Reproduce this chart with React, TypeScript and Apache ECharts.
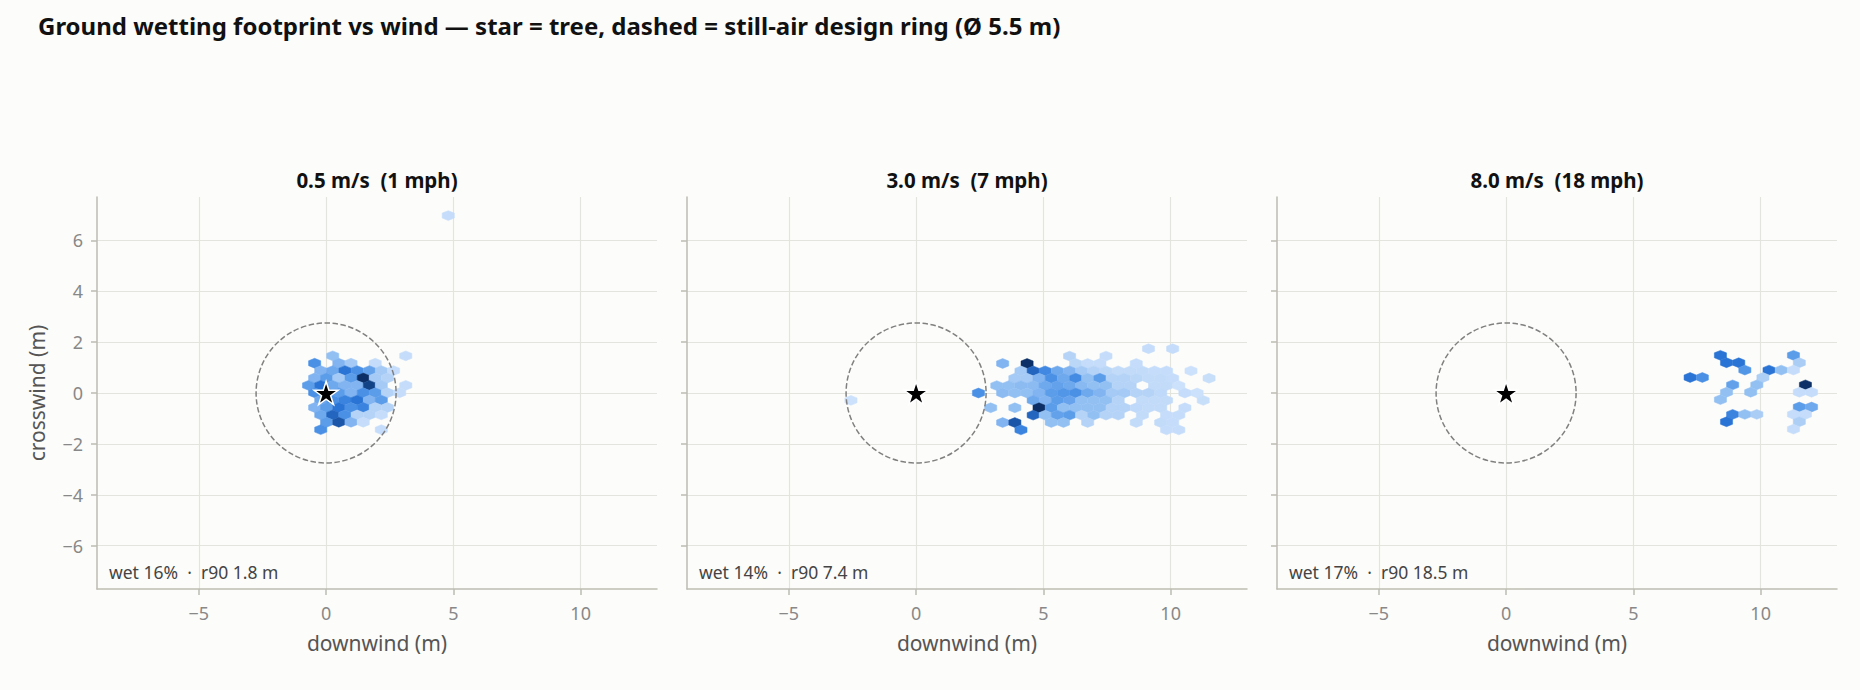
import React, { useEffect, useRef } from 'react';
import * as echarts from 'echarts';

const TITLE = 'Ground wetting footprint vs wind — star = tree, dashed = still-air design ring (Ø 5.5 m)';
const WIND_MS = [0.5, 3.0, 8.0];
const WIND_MPH = [1, 7, 18];
const WET_PCT = [16, 14, 17];
const R90_M = [1.8, 7.4, 18.5];
const X_TICKS = [-5, 0, 5, 10];
const Y_TICKS = [-6, -4, -2, 0, 2, 4, 6];
const X_RANGE = [-9, 13];
const Y_RANGE = [-7.7, 7.7];
const TREE = [[0, 0]];
const RING_DIAMETER_M = 5.5;

// hexbin cells: [downwind m, crosswind m, wetting intensity level 0..7]
const HEX_CALM = [
  [0.26, 1.46, 2], [3.13, 1.46, 0.5],
  [-0.45, 1.17, 4], [0.50, 1.17, 2.5], [0.98, 1.17, 1.5], [1.93, 1.17, 0.5],
  [-0.21, 0.88, 2.5], [0.26, 0.88, 3], [0.74, 0.88, 5], [1.22, 0.88, 4], [1.70, 0.88, 3.3], [2.17, 0.88, 1.5], [2.65, 0.88, 0.5],
  [-0.45, 0.59, 2.5], [0.02, 0.59, 3.5], [0.50, 0.59, 1.5], [0.98, 0.59, 3.5], [1.46, 0.59, 7], [1.93, 0.59, 1.5], [2.41, 0.59, 1],
  [-0.69, 0.30, 3.5], [-0.21, 0.30, 5], [0.26, 0.30, 3], [0.74, 0.30, 2.5], [1.22, 0.30, 2.5], [1.70, 0.30, 6.5], [2.17, 0.30, 1.5], [3.13, 0.30, 0.5],
  [-0.45, 0.01, 4], [0.02, 0.01, 4], [0.50, 0.01, 3.5], [0.98, 0.01, 2.5], [1.46, 0.01, 4], [1.93, 0.01, 3.5], [2.41, 0.01, 1], [2.89, 0.01, 0.5],
  [-0.21, -0.28, 3], [0.26, -0.28, 4], [0.74, -0.28, 4.5], [1.22, -0.28, 5], [1.70, -0.28, 2.5], [2.17, -0.28, 3.5],
  [-0.45, -0.57, 2.5], [0.02, -0.57, 3.5], [0.50, -0.57, 5], [0.98, -0.57, 4], [1.46, -0.57, 4.5], [1.93, -0.57, 1], [2.41, -0.57, 1],
  [-0.21, -0.86, 3], [0.26, -0.86, 5.5], [0.74, -0.86, 4], [1.22, -0.86, 1], [1.70, -0.86, 1], [2.17, -0.86, 0.5],
  [0.02, -1.15, 3.5], [0.50, -1.15, 6], [0.98, -1.15, 2.5], [1.46, -1.15, 0.5],
  [-0.21, -1.44, 4], [2.17, -1.44, 0.5],
  [4.80, 6.97, 0.5],
];

const HEX_MODERATE = [
  [9.13, 1.74, 0.5], [10.08, 1.74, 0.5],
  [6.03, 1.45, 1], [7.46, 1.45, 0.5],
  [3.40, 1.16, 2.5], [4.36, 1.16, 7], [6.27, 1.16, 0.8], [6.74, 1.16, 0.5], [7.22, 1.16, 0.5], [8.65, 1.16, 0.5],
  [4.12, 0.87, 1.5], [4.60, 0.87, 5.5], [5.07, 0.87, 4.3], [5.55, 0.87, 3], [6.03, 0.87, 2.5], [6.50, 0.87, 1.5], [6.98, 0.87, 1], [7.46, 0.87, 0.8], [7.94, 0.87, 0.6], [8.41, 0.87, 0.6], [8.89, 0.87, 0.6], [9.37, 0.87, 0.5], [9.84, 0.87, 0.5], [10.80, 0.87, 0.3],
  [3.88, 0.58, 1.5], [4.36, 0.58, 1.5], [4.83, 0.58, 2.5], [5.31, 0.58, 4], [5.79, 0.58, 3], [6.27, 0.58, 4.2], [6.74, 0.58, 2], [7.22, 0.58, 3.5], [7.70, 0.58, 1], [8.17, 0.58, 1], [8.65, 0.58, 0.8], [9.13, 0.58, 0.6], [9.61, 0.58, 0.6], [10.08, 0.58, 0.5], [11.51, 0.58, 0.4],
  [3.17, 0.29, 2], [3.64, 0.29, 2], [4.12, 0.29, 2.2], [4.60, 0.29, 2.2], [5.07, 0.29, 3], [5.55, 0.29, 3.3], [6.03, 0.29, 3], [6.50, 0.29, 2.3], [6.98, 0.29, 2], [7.46, 0.29, 2], [7.94, 0.29, 1], [8.41, 0.29, 1], [9.37, 0.29, 0.6], [9.84, 0.29, 0.6], [10.32, 0.29, 0.3],
  [2.45, 0, 4], [3.40, 0, 2.2], [3.88, 0, 2], [4.36, 0, 2], [4.83, 0, 2.5], [5.31, 0, 3.5], [5.79, 0, 3.8], [6.27, 0, 4], [6.74, 0, 3], [7.22, 0, 2.5], [7.70, 0, 1.5], [8.17, 0, 1.5], [8.65, 0, 1], [9.13, 0, 1], [9.61, 0, 0.7], [10.56, 0, 0.5], [11.04, 0, 0.3],
  [-2.56, -0.29, 0.3], [4.60, -0.29, 3], [5.07, -0.29, 2.5], [5.55, -0.29, 3.5], [6.03, -0.29, 3.2], [6.50, -0.29, 2], [6.98, -0.29, 2], [7.46, -0.29, 2], [7.94, -0.29, 1], [8.89, -0.29, 0.6], [9.37, -0.29, 0.6], [9.84, -0.29, 0.6], [11.28, -0.29, 0.4],
  [2.93, -0.58, 2], [3.88, -0.58, 2], [4.83, -0.58, 7], [5.31, -0.58, 3.5], [5.79, -0.58, 2], [6.27, -0.58, 2], [6.74, -0.58, 2], [7.22, -0.58, 2], [7.70, -0.58, 1], [8.17, -0.58, 1], [8.65, -0.58, 0.7], [9.13, -0.58, 0.6], [9.61, -0.58, 0.6], [10.56, -0.58, 0.5],
  [4.60, -0.87, 5.5], [5.07, -0.87, 2], [5.55, -0.87, 3.3], [6.03, -0.87, 3.5], [6.50, -0.87, 1], [6.98, -0.87, 2], [7.46, -0.87, 1], [7.94, -0.87, 1], [8.89, -0.87, 0.6], [9.84, -0.87, 0.5], [10.32, -0.87, 0.5],
  [3.40, -1.16, 2.5], [3.88, -1.16, 6], [5.31, -1.16, 2], [5.79, -1.16, 2], [6.74, -1.16, 1], [8.65, -1.16, 0.6], [9.61, -1.16, 0.6], [10.08, -1.16, 0.5],
  [4.12, -1.45, 4.5], [9.84, -1.45, 0.5], [10.32, -1.45, 0.5],
];

const HEX_STRONG = [
  [8.42, 1.48, 5], [11.29, 1.48, 3.5],
  [8.66, 1.19, 5], [9.14, 1.19, 5], [11.52, 1.19, 1.3],
  [9.38, 0.90, 3.8], [10.33, 0.90, 5], [10.81, 0.90, 2], [11.29, 0.90, 0.5],
  [7.23, 0.61, 5], [7.71, 0.61, 4], [10.09, 0.61, 1.2],
  [8.90, 0.32, 3.3], [9.85, 0.32, 2], [11.76, 0.32, 7],
  [8.66, 0.03, 2], [9.61, 0.03, 2], [11.52, 0.03, 0.5], [12.00, 0.03, 0.5],
  [8.42, -0.26, 2],
  [11.52, -0.55, 3.5], [12.00, -0.55, 3],
  [8.90, -0.84, 4.5], [9.38, -0.84, 2], [9.85, -0.84, 1.3], [11.29, -0.84, 0.5], [11.76, -0.84, 0.5],
  [8.66, -1.13, 5], [11.52, -1.13, 1.2],
  [11.29, -1.42, 0.5],
];

const PANELS = [HEX_CALM, HEX_MODERATE, HEX_STRONG];

// layout & style
const FONT = "'Noto Sans', 'DejaVu Sans', sans-serif";
const GRID_LEFTS = [97, 687, 1277];
const GRID_TOP = 197;
const GRID_W = 560;
const GRID_H = 392;
const HEX_W = 0.477;
const HEX_ROW = 0.29;
const HEX_OFFSETS = [
  [HEX_W / 2, -HEX_ROW / 3], [HEX_W / 2, HEX_ROW / 3], [0, (2 * HEX_ROW) / 3],
  [-HEX_W / 2, HEX_ROW / 3], [-HEX_W / 2, -HEX_ROW / 3], [0, (-2 * HEX_ROW) / 3],
];
const HEX_COLORS = ['#d6e7fc', '#b4d3f7', '#93c0f3', '#6ea8ed', '#4a91e6', '#2a74d5', '#1b56a8', '#0b2f66'];
const STAR = 'path://M0,-1L0.225,-0.309L0.951,-0.309L0.363,0.118L0.588,0.809L0,0.382L-0.588,0.809L-0.363,0.118L-0.951,-0.309L-0.225,-0.309Z';
const SPINE = '#bdbdb3';
const GRIDLINE = '#e4e4de';

const fmt = (v: number) => (v < 0 ? '\u2212' + Math.abs(v) : String(v));

const hexRenderer = (params: any, api: any) => {
  const x = api.value(0);
  const y = api.value(1);
  const pts = HEX_OFFSETS.map(([dx, dy]) => api.coord([x + dx, y + dy]));
  const c = api.visual('color');
  return { type: 'polygon', shape: { points: pts }, style: { fill: c, stroke: c, lineWidth: 0.5 } };
};

const ringRenderer = (params: any, api: any) => {
  const c = api.coord([api.value(0), api.value(1)]);
  const r = api.size([RING_DIAMETER_M / 2, 0])[0];
  return {
    type: 'circle',
    shape: { cx: c[0], cy: c[1], r },
    style: { fill: 'none', stroke: '#808080', lineWidth: 1.5, lineDash: [5.5, 2.5] },
  };
};

export default function App() {
  const ref = useRef<HTMLDivElement>(null);
  useEffect(() => {
    if (!ref.current) return;
    const chart = echarts.init(ref.current, undefined, { renderer: 'svg' });

    const grid = GRID_LEFTS.map((left) => ({ left, top: GRID_TOP, width: GRID_W, height: GRID_H, outerBoundsMode: 'none' }));
    const xAxis = GRID_LEFTS.map((_, i) => ({
      type: 'value', gridIndex: i, min: X_RANGE[0], max: X_RANGE[1],
      name: 'downwind (m)', nameLocation: 'middle', nameGap: 43,
      nameTextStyle: { color: '#555', fontSize: 21, fontFamily: FONT },
      axisLine: { show: true, onZero: false, lineStyle: { color: SPINE, width: 1.5 } },
      axisTick: { show: true, length: 6, customValues: X_TICKS, lineStyle: { color: SPINE, width: 1.5 } },
      axisLabel: { customValues: X_TICKS, formatter: fmt, color: '#888', fontSize: 18, margin: 15, fontFamily: FONT },
      splitLine: { show: true, lineStyle: { color: GRIDLINE, width: 1.2 } },
    }));
    const yAxis = GRID_LEFTS.map((_, i) => ({
      type: 'value', gridIndex: i, min: Y_RANGE[0], max: Y_RANGE[1],
      name: i === 0 ? 'crosswind (m)' : '', nameLocation: 'middle', nameGap: 50,
      nameTextStyle: { color: '#555', fontSize: 21, fontFamily: FONT },
      axisLine: { show: true, onZero: false, lineStyle: { color: SPINE, width: 1.5 } },
      axisTick: { show: true, length: 6, customValues: Y_TICKS, lineStyle: { color: SPINE, width: 1.5 } },
      axisLabel: { show: i === 0, customValues: Y_TICKS, formatter: fmt, color: '#888', fontSize: 18, margin: 14, fontFamily: FONT },
      splitLine: { show: true, lineStyle: { color: GRIDLINE, width: 1.2 } },
    }));

    const series: any[] = [];
    PANELS.forEach((cells, i) => series.push({
      type: 'custom', coordinateSystem: 'cartesian2d', xAxisIndex: i, yAxisIndex: i,
      data: cells, encode: { x: 0, y: 1 }, renderItem: hexRenderer, z: 2, silent: true,
    }));
    PANELS.forEach((_, i) => series.push({
      type: 'custom', coordinateSystem: 'cartesian2d', xAxisIndex: i, yAxisIndex: i,
      data: TREE, encode: { x: 0, y: 1 }, renderItem: ringRenderer, z: 3, silent: true,
    }));
    PANELS.forEach((_, i) => series.push({
      type: 'scatter', xAxisIndex: i, yAxisIndex: i, data: TREE, symbol: STAR, symbolSize: [24, 23],
      itemStyle: { color: '#000', borderColor: '#fff', borderWidth: 1.5, opacity: 1 }, z: 4, silent: true,
    }));

    const graphic: any[] = [
      { type: 'text', x: 38, y: 25, style: { text: TITLE, fontSize: 24, fontWeight: 'bold', fontFamily: FONT, fill: '#111', textAlign: 'left', textVerticalAlign: 'middle' } },
    ];
    GRID_LEFTS.forEach((left, i) => {
      graphic.push({ type: 'text', x: left + GRID_W / 2, y: 180, style: { text: `${WIND_MS[i].toFixed(1)} m/s  (${WIND_MPH[i]} mph)`, fontSize: 20.5, fontWeight: 'bold', fontFamily: FONT, fill: '#111', textAlign: 'center', textVerticalAlign: 'middle' } });
      graphic.push({ type: 'text', x: left + 12, y: 572, z: 10, style: { text: `wet ${WET_PCT[i]}%  ·  r90 ${R90_M[i].toFixed(1)} m`, fontSize: 17.5, fontFamily: FONT, fill: '#444', textAlign: 'left', textVerticalAlign: 'middle' } });
    });

    chart.setOption({
      animation: false,
      backgroundColor: '#fcfcfa',
      grid, xAxis, yAxis, series, graphic,
      visualMap: { type: 'continuous', show: false, dimension: 2, min: 0, max: 7, seriesIndex: [0, 1, 2], inRange: { color: HEX_COLORS } },
    });
    return () => chart.dispose();
  }, []);
  return <div ref={ref} style={{ position: 'absolute', left: 0, top: 0, width: 1860, height: 690 }} />;
}
